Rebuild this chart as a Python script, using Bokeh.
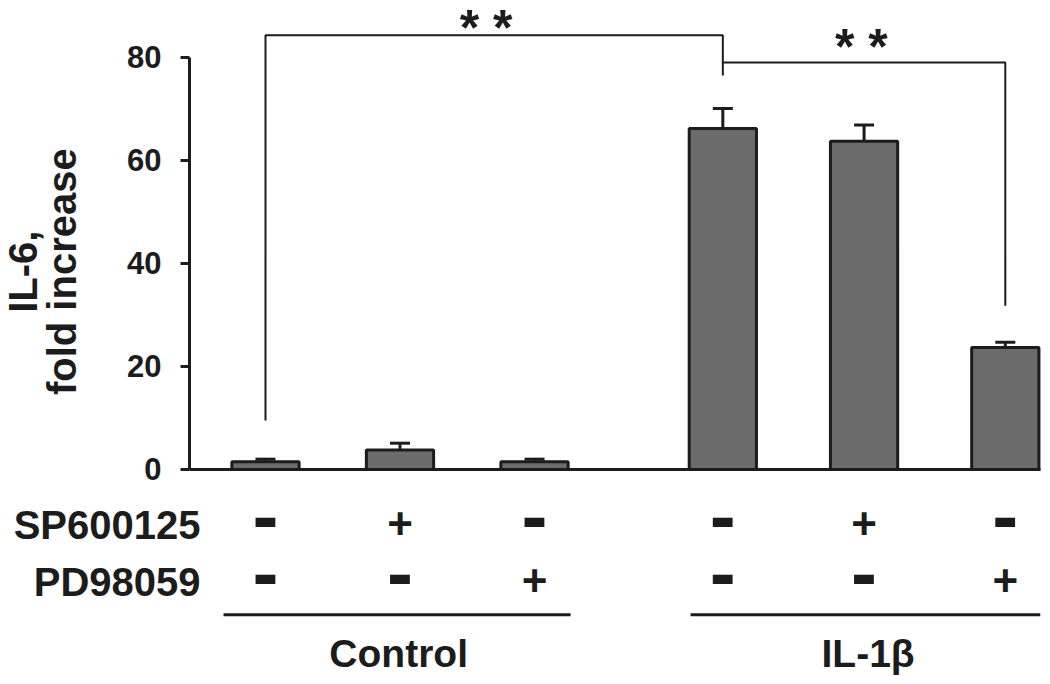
import math
from bokeh.plotting import figure
from bokeh.models import (ColumnDataSource, LinearAxis, FixedTicker, Range1d,
                          Whisker, TeeHead)
from bokeh.core.properties import value
from bokeh.embed import file_html
from bokeh.resources import INLINE

# ---- data ----
conditions = ["Control", "Control + SP600125", "Control + PD98059",
              "IL-1β", "IL-1β + SP600125", "IL-1β + PD98059"]
fold_increase = [1.5, 3.8, 1.5, 66.2, 63.7, 23.7]
sem = [0.5, 1.3, 0.5, 3.9, 3.2, 1.0]
sp600125 = ["-", "+", "-", "-", "+", "-"]
pd98059 = ["-", "-", "+", "-", "-", "+"]
groups = ["Control", "IL-1β"]
y_ticks = [0, 20, 40, 60, 80]

# layout positions (slot centres, group gap)
xpos = [0, 1, 2, 3.4, 4.45, 5.5]

FONT = "Liberation Sans"
INK = "#1c1c1c"

p = figure(width=1050, height=684, output_backend="svg", toolbar_location=None,
           x_axis_location=None, y_axis_location=None,
           x_range=Range1d(-1.970, 5.836), y_range=Range1d(-41.75, 91.05),
           min_border=0, outline_line_color=None)
p.xgrid.visible = False
p.ygrid.visible = False
p.background_fill_color = "white"

# y axis drawn at a fixed data location inside the frame
yaxis = LinearAxis(fixed_location=-0.565, bounds=(0, 80),
                   ticker=FixedTicker(ticks=y_ticks),
                   axis_line_width=3, axis_line_color=INK,
                   major_tick_line_width=3, major_tick_line_color=INK,
                   major_tick_out=9, major_tick_in=0,
                   minor_tick_out=0, minor_tick_in=0,
                   major_label_standoff=19,
                   major_label_text_font=FONT,
                   major_label_text_font_style="bold",
                   major_label_text_font_size="31px",
                   major_label_text_color=INK)
p.add_layout(yaxis, "left")

# baseline
p.segment(x0=[-0.565], y0=[0], x1=[5.762], y1=[0], line_width=3, line_color=INK)

src = ColumnDataSource(dict(x=xpos, top=fold_increase,
                            upper=[v + e for v, e in zip(fold_increase, sem)]))
p.vbar(x="x", top="top", bottom=0, width=0.5, source=src,
       fill_color="#6b6b6b", line_color=INK, line_width=3)
p.add_layout(Whisker(source=src, base="x", lower="top", upper="upper",
                     line_width=3, line_color=INK, lower_head=None,
                     upper_head=TeeHead(size=20, line_width=3, line_color=INK)))

# significance brackets
b1_low, b1_top, b1_right_low = 9.5, 84.3, 76.5
b2_top, b2_right_low = 79.0, 31.8
p.line(x=[xpos[0], xpos[0], xpos[3], xpos[3]],
       y=[b1_low, b1_top, b1_top, b1_right_low], line_width=2, line_color=INK)
p.line(x=[xpos[3], xpos[5], xpos[5]],
       y=[b2_top, b2_top, b2_right_low], line_width=2, line_color=INK)
p.text(x=[1.64, 4.43], y=[87.8, 84.1], text=["* *", "* *"],
       text_font=value(FONT), text_font_style="bold", text_font_size="50px",
       text_align="center", text_baseline="middle", y_offset=11,
       text_color=INK)

# treatment rows
row_sp, row_pd = -10.8, -21.9
p.text(x=[-0.483, -0.483], y=[row_sp, row_pd], text=["SP600125", "PD98059"],
       text_font=value(FONT), text_font_style="bold", text_font_size="40px",
       text_align="right", text_baseline="middle", text_color=INK)

for row_y, signs in ((row_sp, sp600125), (row_pd, pd98059)):
    mx = [x for x, s in zip(xpos, signs) if s == "-"]
    px_ = [x for x, s in zip(xpos, signs) if s == "+"]
    p.text(x=mx, y=[row_y] * len(mx), text=["-"] * len(mx),
           text_font=value(FONT), text_font_style="bold", text_font_size="78px",
           text_align="center", text_baseline="middle", y_offset=-9,
           text_color=INK)
    p.text(x=px_, y=[row_y] * len(px_), text=["+"] * len(px_),
           text_font=value(FONT), text_font_style="bold", text_font_size="44px",
           text_align="center", text_baseline="middle", y_offset=-2,
           text_color=INK)

# group underlines and labels
p.segment(x0=[-0.312, 3.16], y0=[-28.2, -28.2], x1=[2.268, 5.76], y1=[-28.2, -28.2],
          line_width=3, line_color=INK)
p.text(x=[0.99, 4.48], y=[-35.7, -35.7], text=groups,
       text_font=value(FONT), text_font_style="bold", text_font_size="39px",
       text_align="center", text_baseline="middle", text_color=INK)

# y axis title (two rotated lines)
p.text(x=[-1.80, -1.515], y=[38.4, 38.4], text=["IL-6,", "fold increase"],
       angle=math.pi / 2, text_font=value(FONT), text_font_style="bold",
       text_font_size="40px", text_align="center", text_baseline="middle",
       text_color=INK)

open("out.html", "w").write(file_html(p, INLINE))
